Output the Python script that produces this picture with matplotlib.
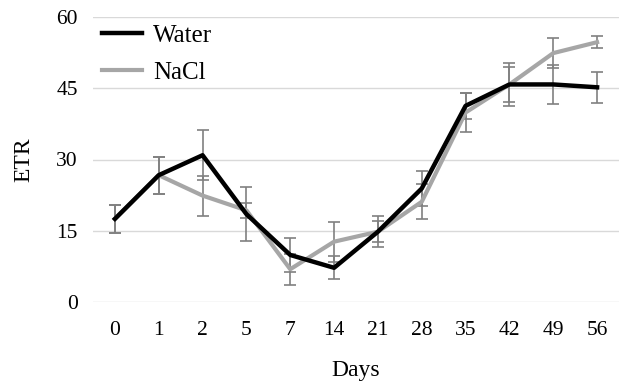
import matplotlib.pyplot as plt
import numpy as np

days = ['0', '1', '2', '5', '7', '14', '21', '28', '35', '42', '49', '56']
water = [17.5, 26.7, 30.9, 18.5, 9.9, 7.2, 14.8, 23.9, 41.3, 45.8, 45.8, 45.2]
water_err = [2.9, 3.9, 5.3, 5.7, 3.6, 2.4, 3.3, 3.7, 2.8, 3.7, 4.2, 3.2]
nacl = [17.5, 26.7, 22.4, 19.3, 6.9, 12.7, 14.8, 21.1, 39.9, 45.8, 52.4, 54.7]
nacl_err = [2.9, 3.9, 4.2, 1.6, 3.3, 4.2, 2.2, 3.7, 4.2, 4.5, 3.1, 1.2]

plt.rcParams['font.family'] = ['Liberation Serif', 'DejaVu Serif']

fig = plt.figure(figsize=(6.22, 3.92), dpi=100)
ax = fig.add_axes([93/622, 1-302/392, 526/622, 285/392])

x = np.arange(len(days))
ax.errorbar(x, water, yerr=water_err, fmt='none', ecolor='#808080',
            elinewidth=1.2, capsize=4, capthick=1.2, zorder=2)
ax.errorbar(x, nacl, yerr=nacl_err, fmt='none', ecolor='#808080',
            elinewidth=1.2, capsize=4, capthick=1.2, zorder=2)
ax.plot(x, nacl, color='#a6a6a6', lw=3, label='NaCl', zorder=3)
ax.plot(x, water, color='black', lw=3.2, label='Water', zorder=4)

ax.set_xlim(-0.5, len(days) - 0.5)
ax.set_ylim(0, 60)
ax.set_yticks([0, 15, 30, 45, 60])
ax.set_xticks(x)
ax.set_xticklabels(days)
ax.grid(axis='y', color='#d9d9d9', lw=1)
ax.set_axisbelow(True)
for s in ax.spines.values():
    s.set_visible(False)
ax.tick_params(length=0, labelsize=15.5)
ax.tick_params(axis='y', pad=11)
ax.tick_params(axis='x', pad=14)

ax.set_ylabel('ETR', fontsize=17, labelpad=16)
ax.set_xlabel('Days', fontsize=17, labelpad=14)

h, l = ax.get_legend_handles_labels()
ax.legend(h[::-1], l[::-1], loc='upper left', frameon=False, fontsize=18,
          handlelength=1.6, handletextpad=0.45, borderpad=0,
          borderaxespad=0, labelspacing=0.6,
          bbox_to_anchor=(0.017, 0.975))

fig.savefig('out.png', dpi=100)
